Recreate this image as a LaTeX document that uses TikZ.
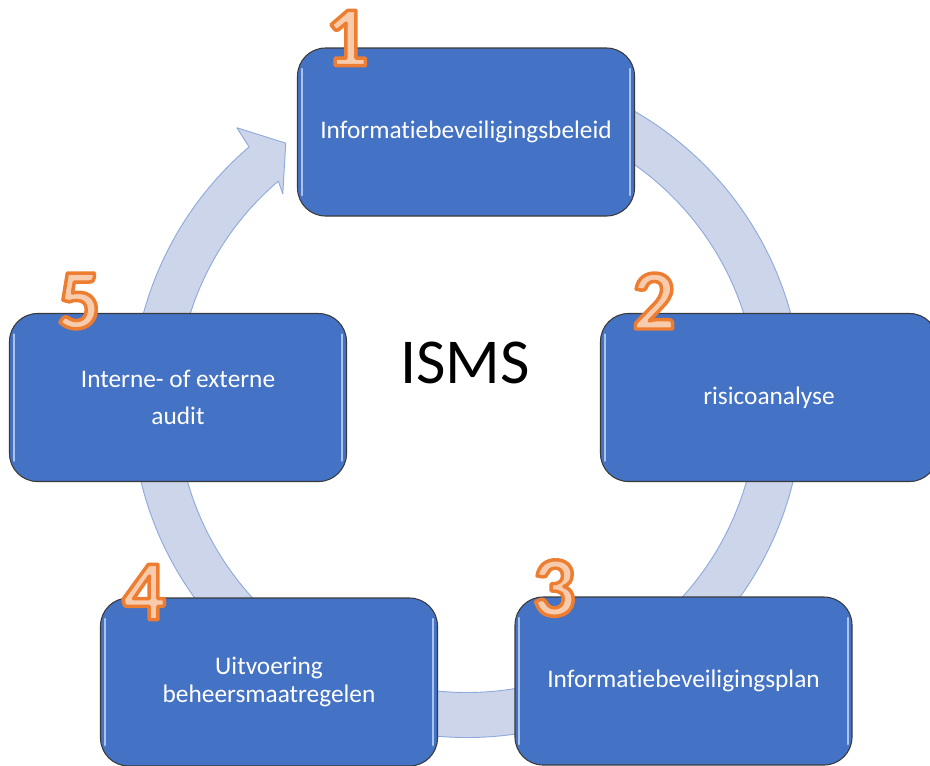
\documentclass[tikz,border=0pt]{standalone}
\usepackage{fontspec}
\setmainfont[Ligatures=NoCommon]{Carlito}

\definecolor{boxblauw}{HTML}{4472C4}
\definecolor{boxrand}{HTML}{3A3A3A}
\definecolor{boxlicht}{HTML}{A9C2EE}
\definecolor{ringvul}{HTML}{CDD5EA}
\definecolor{ringrand}{HTML}{8FAADC}
\definecolor{nummervul}{HTML}{F8CBAD}

% angka dengan garis tepi oranye (text render mode 2)
\newcommand\omlijnd[1]{\special{pdf:literal direct 2 Tr 2.6 w 0.929 0.490 0.192 RG}#1\special{pdf:literal direct 0 Tr}}

\begin{document}
\begin{tikzpicture}[x=0.75pt, y=0.75pt, line join=round, line cap=round]
    % Gaya untuk kotak langkah dan angka
    \tikzset{
      stap/.style={draw=boxrand, line width=0.8pt, fill=boxblauw, rounded corners=21pt,
        minimum width=252.75pt, minimum height=126pt, inner sep=0pt,
        text=white, align=center, font=\fontsize{19}{21}\selectfont},
      nummer/.style={inner sep=0pt, text=nummervul, font=\fontsize{64}{64}\selectfont\bfseries},
      glans/.style={draw=boxlicht, line width=1.6pt}
    }
    \useasboundingbox (0,0) rectangle (930,-765);

    % Panah melingkar di belakang kotak
    \begin{scope}[shift={(467,-402)}]
      \filldraw[fill=ringvul, draw=ringrand, line width=0.7pt]
        (90:335.5) arc[start angle=90, end angle=-229.5, radius=335.5]
        -- (130:358) -- (125:316) -- (131.5:278)
        -- (-229.5:290.5) arc[start angle=-229.5, end angle=90, radius=290.5]
        -- cycle;
    \end{scope}

    % Lima langkah
    \node[stap] (beleid) at (466,-132) {Informatiebeveiligingsbeleid};
    \node[stap] (risico) at (769,-397.5) {risicoanalyse};
    \node[stap] (plan) at (683.5,-681) {Informatiebeveiligingsplan};
    \node[stap] (uitvoering) at (269,-682) {Uitvoering\\beheersmaatregelen};
    \node[stap, font=\fontsize{19}{27.75}\selectfont] (audit) at (178,-397.5) {Interne- of externe\\audit};

    % Kilap pada sisi kiri dan kanan kotak
    \foreach \n in {beleid, risico, plan, uitvoering, audit} {
      \draw[glans] ([xshift=3.5pt, yshift=-16pt]\n.north west) -- ([xshift=3.5pt, yshift=16pt]\n.south west);
      \draw[glans] ([xshift=-3.5pt, yshift=-16pt]\n.north east) -- ([xshift=-3.5pt, yshift=16pt]\n.south east);
    }

    % Nomor langkah
    \node[nummer] (n1) at (347,-38) {\omlijnd{1}};
    \node[nummer] (n2) at (654,-301) {\omlijnd{2}};
    \node[nummer] (n3) at (554,-588) {\omlijnd{3}};
    \node[nummer] (n4) at (144,-592) {\omlijnd{4}};
    \node[nummer] (n5) at (79,-301) {\omlijnd{5}};

    % Judul di tengah
    \node[inner sep=0pt, anchor=base, font=\fontsize{48}{48}\selectfont] (isms) at (465,-383) {ISMS};
\end{tikzpicture}
\end{document}
